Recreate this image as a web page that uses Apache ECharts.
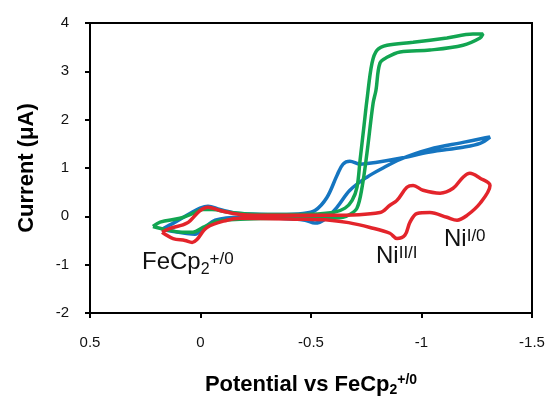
<!DOCTYPE html>
<html>
<head>
<meta charset="utf-8">
<script src="https://cdn.jsdelivr.net/npm/echarts@6/dist/echarts.min.js"></script>
<style>
  html, body { margin: 0; padding: 0; background: #fff; }
  #chart { width: 548px; height: 396px; }
</style>
</head>
<body>
<div id="chart"></div>
<script>
// potential (V vs FeCp2+/0), current (uA) -- each curve is one closed CV loop
var redCurve = [
  [0.174, -0.33], [0.138, -0.25], [0.061, -0.14], [0.002, 0.12], [-0.034, 0.19],
  [-0.088, 0.12], [-0.179, 0.04], [-0.328, 0.02], [-0.586, 0.02], [-0.812, 0.08],
  [-0.857, 0.23], [-0.889, 0.33], [-0.934, 0.60], [-0.962, 0.64], [-1.007, 0.54],
  [-1.084, 0.48], [-1.143, 0.58], [-1.188, 0.81], [-1.219, 0.89], [-1.265, 0.79],
  [-1.310, 0.64],
  [-1.265, 0.27], [-1.206, 0.02], [-1.161, -0.08], [-1.115, -0.02], [-1.038, 0.08],
  [-0.980, 0.06], [-0.948, -0.12], [-0.925, -0.39], [-0.889, -0.46], [-0.857, -0.35],
  [-0.767, -0.23], [-0.670, -0.13], [-0.586, -0.08], [-0.450, -0.06], [-0.179, -0.04],
  [-0.120, -0.08], [-0.029, -0.23], [0.016, -0.48], [0.038, -0.54], [0.070, -0.50],
  [0.124, -0.46], [0.174, -0.33]
];

var blueCurve = [
  [0.174, -0.27], [0.115, -0.12], [0.048, 0.06], [0.002, 0.17], [-0.034, 0.21],
  [-0.088, 0.14], [-0.179, 0.06], [-0.360, 0.04], [-0.464, 0.06], [-0.518, 0.12],
  [-0.572, 0.39], [-0.618, 0.85], [-0.645, 1.08], [-0.676, 1.14], [-0.722, 1.08],
  [-0.799, 1.12], [-0.903, 1.20], [-1.038, 1.33], [-1.188, 1.43], [-1.265, 1.51],
  [-1.310, 1.64],
  [-1.274, 1.61], [-1.188, 1.53], [-1.038, 1.39], [-0.903, 1.18], [-0.826, 1.00],
  [-0.753, 0.81], [-0.676, 0.54], [-0.618, 0.19], [-0.563, -0.06], [-0.518, -0.14],
  [-0.473, -0.08], [-0.360, -0.04], [-0.179, -0.02], [-0.066, -0.08], [-0.020, -0.23],
  [0.025, -0.37], [0.070, -0.35], [0.129, -0.31], [0.174, -0.27]
];

var greenCurve = [
  [0.215, -0.21], [0.183, -0.12], [0.093, -0.04], [0.034, 0.06], [-0.011, 0.14],
  [-0.052, 0.14], [-0.133, 0.08], [-0.269, 0.04], [-0.450, 0.04], [-0.600, 0.08],
  [-0.654, 0.17], [-0.686, 0.33], [-0.708, 0.60], [-0.722, 1.16], [-0.740, 1.88],
  [-0.753, 2.40], [-0.776, 3.17], [-0.799, 3.44], [-0.844, 3.54], [-0.962, 3.60],
  [-1.115, 3.69], [-1.233, 3.77], [-1.278, 3.77],
  [-1.265, 3.69], [-1.188, 3.54], [-1.038, 3.44], [-0.903, 3.40], [-0.844, 3.29],
  [-0.812, 3.17], [-0.794, 2.61], [-0.781, 2.34], [-0.753, 1.30], [-0.731, 0.60],
  [-0.708, 0.17], [-0.676, 0.04], [-0.645, -0.02], [-0.541, -0.04], [-0.360, -0.04],
  [-0.179, -0.06], [-0.075, -0.10], [-0.011, -0.23], [0.034, -0.33], [0.079, -0.33],
  [0.161, -0.27], [0.215, -0.21]
];

var font = "'Liberation Sans', Arial, sans-serif";

var dom = document.getElementById('chart');
var myChart = echarts.init(dom);

function cv(name, color, data) {
  return {
    name: name,
    type: 'line',
    data: data,
    smooth: 0.35,
    showSymbol: false,
    symbol: 'none',
    lineStyle: { color: color, width: 3.5 },
    animation: false
  };
}

// rich styles for the annotations: base centred in a 32px line, sub at bottom, sup at top
function annoRich() {
  return {
    b: { fontFamily: font, fontSize: 24, fill: '#111', lineHeight: 32, verticalAlign: 'middle' },
    sub: { fontFamily: font, fontSize: 16, fill: '#111', lineHeight: 32, verticalAlign: 'bottom' },
    sup: { fontFamily: font, fontSize: 17, fill: '#111', lineHeight: 32, verticalAlign: 'top', padding: [5, 0, 0, 0] }
  };
}

var option = {
  animation: false,
  grid: {
    left: 90, right: 16, top: 23, bottom: 83,
    outerBoundsMode: 'none',
    show: true, borderColor: '#000', borderWidth: 2, backgroundColor: 'transparent'
  },
  xAxis: {
    type: 'value',
    inverse: true,
    min: -1.5, max: 0.5, interval: 0.5,
    name: 'Potential vs FeCp{sub|2}{sup|+/0}',
    nameLocation: 'middle',
    nameGap: 60,
    nameTextStyle: {
      fontFamily: font, fontSize: 22, fontWeight: 'bold', color: '#000',
      rich: {
        sub: { fontFamily: font, fontSize: 14, fontWeight: 'bold', color: '#000', verticalAlign: 'bottom', padding: [10, 0, 0, 0] },
        sup: { fontFamily: font, fontSize: 14, fontWeight: 'bold', color: '#000', verticalAlign: 'top', padding: [0, 0, 10, 0] }
      }
    },
    axisLine: { onZero: false, lineStyle: { color: '#000', width: 2 } },
    axisTick: { inside: false, length: 5, lineStyle: { color: '#000', width: 2 } },
    axisLabel: { fontFamily: font, fontSize: 15, color: '#111', margin: 22 },
    splitLine: { show: false }
  },
  yAxis: {
    type: 'value',
    min: -2, max: 4, interval: 1,
    name: 'Current (μA)',
    nameLocation: 'middle',
    nameGap: 52,
    nameTextStyle: { fontFamily: font, fontSize: 22, fontWeight: 'bold', color: '#000' },
    axisLine: { onZero: false, lineStyle: { color: '#000', width: 2 } },
    axisTick: { inside: false, length: 5, lineStyle: { color: '#000', width: 2 } },
    axisLabel: { fontFamily: font, fontSize: 15, color: '#111', margin: 21 },
    splitLine: { show: false }
  },
  series: [
    cv('blue', '#1575c0', blueCurve),
    cv('green', '#12a551', greenCurve),
    cv('red', '#e3242b', redCurve)
  ],
  graphic: [
    {
      type: 'text', left: 142, top: 246, silent: true,
      style: { text: '{b|FeCp}{sub|2}{sup|+/0}', rich: annoRich() }
    },
    {
      type: 'text', left: 376, top: 240, silent: true,
      style: { text: '{b|Ni}{sup|II/I}', rich: annoRich() }
    },
    {
      type: 'text', left: 444, top: 223, silent: true,
      style: { text: '{b|Ni}{sup|I/0}', rich: annoRich() }
    }
  ]
};

myChart.setOption(option, true);
</script>
</body>
</html>
